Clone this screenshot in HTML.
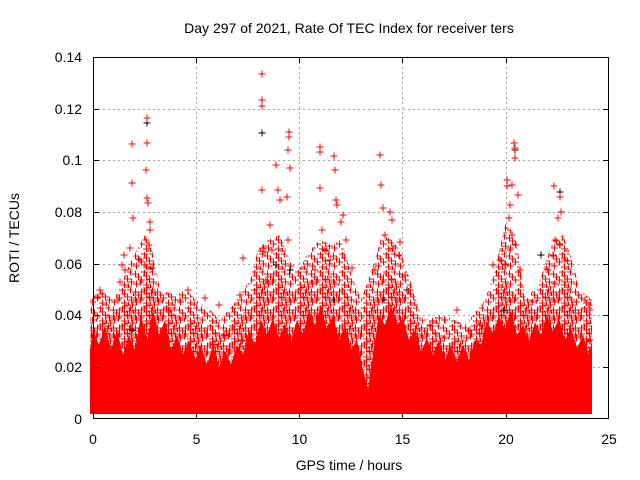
<!DOCTYPE html>
<html><head><meta charset="utf-8"><style>
html,body{margin:0;padding:0;background:#fff;}
svg{display:block;font-family:"Liberation Sans",sans-serif;}
</style></head><body>
<svg width="640" height="480" viewBox="0 0 640 480">
<defs>
<pattern id="pp" width="22" height="18" patternUnits="userSpaceOnUse">
<path fill="none" stroke="#f00" stroke-width="1" d="M0,4h7m-3.5,-3.5v7 M9,2h7m-3.5,-3.5v7 M6,10h7m-3.5,-3.5v7 M14,9h7m-3.5,-3.5v7 M1,14h7m-3.5,-3.5v7 M11,15h7m-3.5,-3.5v7 M17,2h7m-3.5,-3.5v7 M15,17h7m-3.5,-3.5v7 M18,12h7m-3.5,-3.5v7 M-4,12h7m-3.5,-3.5v7 M3,7h7m-3.5,-3.5v7 M11,6h7m-3.5,-3.5v7"/>
</pattern>
<pattern id="pp2" width="22" height="18" patternUnits="userSpaceOnUse" patternTransform="translate(5,8)">
<path fill="none" stroke="#f00" stroke-width="1" d="M0,4h7m-3.5,-3.5v7 M9,2h7m-3.5,-3.5v7 M6,10h7m-3.5,-3.5v7 M14,9h7m-3.5,-3.5v7 M1,14h7m-3.5,-3.5v7 M11,15h7m-3.5,-3.5v7 M17,2h7m-3.5,-3.5v7 M15,17h7m-3.5,-3.5v7"/>
</pattern>
</defs>
<rect width="640" height="480" fill="#fff"/>
<g stroke="#a0a0a0" stroke-dasharray="2,3" stroke-width="1">
<line x1="93" y1="367.5" x2="609" y2="367.5"/><line x1="93" y1="315.5" x2="609" y2="315.5"/>
<line x1="93" y1="264.5" x2="609" y2="264.5"/><line x1="93" y1="212.5" x2="609" y2="212.5"/>
<line x1="93" y1="160.5" x2="609" y2="160.5"/><line x1="93" y1="109.5" x2="609" y2="109.5"/>
<line x1="196.5" y1="57" x2="196.5" y2="419"/><line x1="299.5" y1="57" x2="299.5" y2="419"/>
<line x1="402.5" y1="57" x2="402.5" y2="419"/><line x1="506.5" y1="57" x2="506.5" y2="419"/>
</g>
<polygon fill="url(#pp)" points="90,413 90,300 100,290 114,300 125,275 134,255 145,235 152,250 160,290 176,295 186,290 196,300 210,310 220,320 237,300 250,280 258,250 268,240 280,235 290,260 299,270 310,250 320,240 332,245 341,240 350,270 361,300 372,270 382,235 392,240 400,250 410,280 423,320 444,315 465,325 485,300 495,270 506,220 516,240 526,300 540,280 553,240 563,235 572,260 580,290 592,300 592,413"/>
<polygon fill="url(#pp2)" points="90,413 90,320 110,315 130,300 145,270 155,290 175,315 196,320 220,335 240,320 258,285 275,270 290,295 310,280 330,275 345,290 360,320 370,310 385,270 400,285 415,320 440,335 465,340 490,310 505,280 520,300 540,300 555,280 570,295 592,320 592,413"/>
<polygon fill="#f00" points="90,414 90,350 93,330 99,345 105,325 111,350 117,330 123,355 129,335 135,350 141,315 147,340 153,310 159,335 165,320 171,350 177,335 183,355 189,340 195,360 201,345 207,365 213,345 219,368 225,350 231,365 237,345 243,355 249,330 255,345 261,320 267,335 273,318 279,338 285,325 291,342 297,320 303,335 309,310 315,325 321,305 327,330 333,315 339,340 345,325 351,350 357,340 363,370 368,390 373,355 379,315 385,325 391,305 397,325 403,318 409,340 415,330 421,352 427,338 433,355 439,340 445,360 451,345 457,362 463,345 469,360 475,340 481,345 487,320 493,335 499,315 505,330 511,310 517,335 523,325 529,342 535,322 541,335 547,315 553,332 559,318 565,340 571,328 577,348 583,335 589,355 592,340 592,414"/>
<path fill="none" stroke="#000" stroke-width="1" d="M258.5,133h7m-3.5,-3.5v7 M143.5,123h7m-3.5,-3.5v7 M556.5,192h7m-3.5,-3.5v7 M272.5,265h7m-3.5,-3.5v7 M286.5,270h7m-3.5,-3.5v7 M511.5,150h7m-3.5,-3.5v7 M537.5,255h7m-3.5,-3.5v7 M380.5,300h7m-3.5,-3.5v7 M403.5,290h7m-3.5,-3.5v7 M128.5,330h7m-3.5,-3.5v7 M330.5,300h7m-3.5,-3.5v7 M500.5,310h7m-3.5,-3.5v7"/>
<path fill="none" stroke="#f00" stroke-width="1" d="
M128.5,144h7m-3.5,-3.5v7 M128.5,183h7m-3.5,-3.5v7 M129.5,218h7m-3.5,-3.5v7 M143.5,118h7m-3.5,-3.5v7 M143.5,143h7m-3.5,-3.5v7 M142.5,170h7m-3.5,-3.5v7 M143.5,198h7m-3.5,-3.5v7 M144.5,203h7m-3.5,-3.5v7 M146.5,222h7m-3.5,-3.5v7 M146.5,230h7m-3.5,-3.5v7 M142.5,240h7m-3.5,-3.5v7 M145.5,245h7m-3.5,-3.5v7 M141.5,265h7m-3.5,-3.5v7 M148.5,268h7m-3.5,-3.5v7 M136.5,260h7m-3.5,-3.5v7 M120.5,255h7m-3.5,-3.5v7 M118.5,265h7m-3.5,-3.5v7 M121.5,270h7m-3.5,-3.5v7 M116.5,282h7m-3.5,-3.5v7 M126.5,248h7m-3.5,-3.5v7 M114.5,300h7m-3.5,-3.5v7
M258.5,74h7m-3.5,-3.5v7 M258.5,100h7m-3.5,-3.5v7 M258.5,106h7m-3.5,-3.5v7 M258.5,190h7m-3.5,-3.5v7 M259.5,248h7m-3.5,-3.5v7 M261.5,252h7m-3.5,-3.5v7 M272.5,165h7m-3.5,-3.5v7 M274.5,190h7m-3.5,-3.5v7 M276.5,200h7m-3.5,-3.5v7 M285.5,132h7m-3.5,-3.5v7 M285.5,137h7m-3.5,-3.5v7 M284.5,150h7m-3.5,-3.5v7 M286.5,168h7m-3.5,-3.5v7 M283.5,197h7m-3.5,-3.5v7 M284.5,240h7m-3.5,-3.5v7 M268.5,250h7m-3.5,-3.5v7 M239.5,258h7m-3.5,-3.5v7 M236.5,295h7m-3.5,-3.5v7 M262.5,280h7m-3.5,-3.5v7 M266.5,225h7m-3.5,-3.5v7
M316.5,147h7m-3.5,-3.5v7 M316.5,152h7m-3.5,-3.5v7 M316.5,188h7m-3.5,-3.5v7 M318.5,230h7m-3.5,-3.5v7 M321.5,250h7m-3.5,-3.5v7 M330.5,156h7m-3.5,-3.5v7 M331.5,170h7m-3.5,-3.5v7 M332.5,200h7m-3.5,-3.5v7 M333.5,205h7m-3.5,-3.5v7 M339.5,215h7m-3.5,-3.5v7 M337.5,222h7m-3.5,-3.5v7 M326.5,260h7m-3.5,-3.5v7 M342.5,240h7m-3.5,-3.5v7 M348.5,268h7m-3.5,-3.5v7 M311.5,270h7m-3.5,-3.5v7
M376.5,155h7m-3.5,-3.5v7 M377.5,185h7m-3.5,-3.5v7 M379.5,208h7m-3.5,-3.5v7 M386.5,212h7m-3.5,-3.5v7 M388.5,220h7m-3.5,-3.5v7 M381.5,235h7m-3.5,-3.5v7 M389.5,248h7m-3.5,-3.5v7 M396.5,242h7m-3.5,-3.5v7 M395.5,255h7m-3.5,-3.5v7 M371.5,270h7m-3.5,-3.5v7 M401.5,275h7m-3.5,-3.5v7 M406.5,290h7m-3.5,-3.5v7 M393.5,300h7m-3.5,-3.5v7
M510.5,143h7m-3.5,-3.5v7 M511.5,148h7m-3.5,-3.5v7 M511.5,158h7m-3.5,-3.5v7 M503.5,180h7m-3.5,-3.5v7 M503.5,186h7m-3.5,-3.5v7 M508.5,185h7m-3.5,-3.5v7 M514.5,195h7m-3.5,-3.5v7 M506.5,205h7m-3.5,-3.5v7 M505.5,218h7m-3.5,-3.5v7 M508.5,235h7m-3.5,-3.5v7 M512.5,245h7m-3.5,-3.5v7 M506.5,250h7m-3.5,-3.5v7 M496.5,260h7m-3.5,-3.5v7 M489.5,265h7m-3.5,-3.5v7 M501.5,265h7m-3.5,-3.5v7 M516.5,270h7m-3.5,-3.5v7 M494.5,290h7m-3.5,-3.5v7
M550.5,186h7m-3.5,-3.5v7 M556.5,197h7m-3.5,-3.5v7 M557.5,212h7m-3.5,-3.5v7 M554.5,218h7m-3.5,-3.5v7 M551.5,240h7m-3.5,-3.5v7 M556.5,245h7m-3.5,-3.5v7 M549.5,255h7m-3.5,-3.5v7 M561.5,260h7m-3.5,-3.5v7 M561.5,282h7m-3.5,-3.5v7 M564.5,290h7m-3.5,-3.5v7 M544.5,270h7m-3.5,-3.5v7 M581.5,300h7m-3.5,-3.5v7 M585.5,305h7m-3.5,-3.5v7
M96.5,290h7m-3.5,-3.5v7 M94.5,297h7m-3.5,-3.5v7 M184.5,290h7m-3.5,-3.5v7 M201.5,298h7m-3.5,-3.5v7 M215.5,305h7m-3.5,-3.5v7 M229.5,330h7m-3.5,-3.5v7 M226.5,350h7m-3.5,-3.5v7 M221.5,335h7m-3.5,-3.5v7 M176.5,300h7m-3.5,-3.5v7 M166.5,310h7m-3.5,-3.5v7 M426.5,325h7m-3.5,-3.5v7 M441.5,320h7m-3.5,-3.5v7 M453.5,310h7m-3.5,-3.5v7 M466.5,330h7m-3.5,-3.5v7 M476.5,325h7m-3.5,-3.5v7 M586.5,310h7m-3.5,-3.5v7 M586.5,340h7m-3.5,-3.5v7 M238.5,340h7m-3.5,-3.5v7 M210.5,345h7m-3.5,-3.5v7"/>
<rect x="93.5" y="57.5" width="515" height="361" fill="none" stroke="#000"/>
<g stroke="#000">
<path d="M196.5 419v-6M299.5 419v-6M402.5 419v-6M506.5 419v-6M196.5 57v6M299.5 57v6M402.5 57v6M506.5 57v6"/>
<path d="M93 367.5h6M93 315.5h6M93 264.5h6M93 212.5h6M93 160.5h6M93 109.5h6M609 367.5h-6M609 315.5h-6M609 264.5h-6M609 212.5h-6M609 160.5h-6M609 109.5h-6"/>
</g>
<g font-size="14" fill="#000" text-anchor="end">
<text x="82" y="424">0</text><text x="82" y="372">0.02</text><text x="82" y="320">0.04</text>
<text x="82" y="269">0.06</text><text x="82" y="217">0.08</text><text x="82" y="165">0.1</text>
<text x="82" y="114">0.12</text><text x="82" y="62">0.14</text>
</g>
<g font-size="14" fill="#000" text-anchor="middle">
<text x="93" y="444">0</text><text x="196.5" y="444">5</text><text x="299.5" y="444">10</text>
<text x="402.5" y="444">15</text><text x="506" y="444">20</text><text x="609" y="444">25</text>
<text x="349" y="470">GPS time / hours</text>
<text x="349" y="33">Day 297 of 2021, Rate Of TEC Index for receiver ters</text>
<text transform="translate(19,238) rotate(-90)">ROTI / TECUs</text>
</g>
</svg>
</body></html>
